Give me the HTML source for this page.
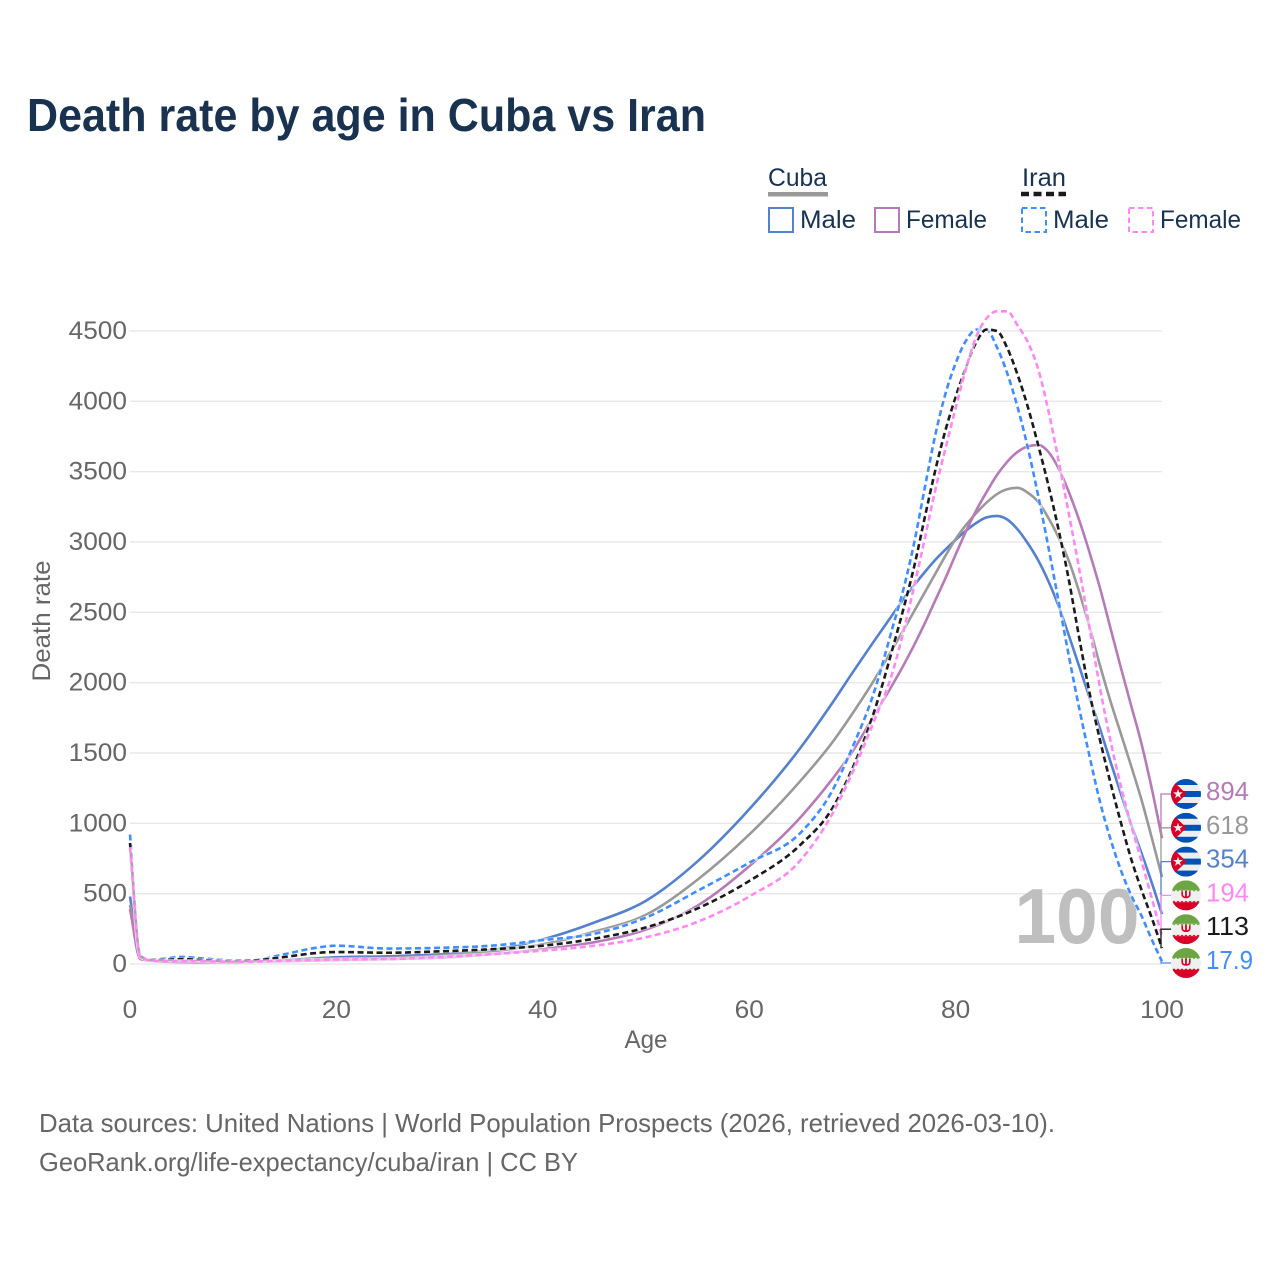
<!DOCTYPE html>
<html lang="en">
<head>
<meta charset="utf-8">
<title>Death rate by age in Cuba vs Iran</title>
<style>
html,body{margin:0;padding:0;background:#fff}
svg{display:block}
text{font-family:"Liberation Sans",sans-serif}
</style>
</head>
<body>
<svg id="chart" xmlns="http://www.w3.org/2000/svg" width="1280" height="1280" viewBox="0 0 1280 1280">
  <rect width="1280" height="1280" fill="#fff"/>
  <text x="27" y="131" font-size="46" font-weight="700" fill="#18324f" textLength="679" lengthAdjust="spacingAndGlyphs">Death rate by age in Cuba vs Iran</text>

  <g font-size="25" fill="#18324f">
    <text x="768" y="186" textLength="59" lengthAdjust="spacingAndGlyphs">Cuba</text>
    <rect x="768" y="192" width="60" height="4.5" fill="#999"/>
    <text x="1022" y="186" textLength="44" lengthAdjust="spacingAndGlyphs">Iran</text>
    <line x1="1021" x2="1066" y1="194" y2="194" stroke="#1a1a1a" stroke-width="4.5" stroke-dasharray="8 4.5"/>
    <g>
      <rect x="769" y="208" width="24" height="24" fill="none" stroke="#5481cd" stroke-width="2"/>
      <text x="800" y="228" textLength="56" lengthAdjust="spacingAndGlyphs">Male</text>
    </g>
    <g>
      <rect x="875" y="208" width="24" height="24" fill="none" stroke="#b77ab8" stroke-width="2"/>
      <text x="906" y="228" textLength="81" lengthAdjust="spacingAndGlyphs">Female</text>
    </g>
    <g>
      <rect x="1022" y="208" width="24" height="24" fill="none" stroke="#3f8dff" stroke-width="2" stroke-dasharray="5.5 3.5"/>
      <text x="1053" y="228" textLength="56" lengthAdjust="spacingAndGlyphs">Male</text>
    </g>
    <g>
      <rect x="1129" y="208" width="24" height="24" fill="none" stroke="#ff88f5" stroke-width="2" stroke-dasharray="5.5 3.5"/>
      <text x="1160" y="228" textLength="81" lengthAdjust="spacingAndGlyphs">Female</text>
    </g>
  </g>

  <g id="grid"></g>
  <g id="yticks"></g>
  <g id="xticks"></g>
  <text x="1077" y="943" font-size="78" font-weight="700" fill="#bfbfbf" text-anchor="middle" textLength="125" lengthAdjust="spacingAndGlyphs">100</text>
  <g id="series"></g>
  <g id="endlabels"></g>

  <text x="646" y="1048" font-size="25" fill="#666" text-anchor="middle" textLength="43" lengthAdjust="spacingAndGlyphs">Age</text>
  <text transform="translate(50 621) rotate(-90)" font-size="25" fill="#666" text-anchor="middle" textLength="121" lengthAdjust="spacingAndGlyphs">Death rate</text>

  <text x="39" y="1132" font-size="26" fill="#666" textLength="1016" lengthAdjust="spacingAndGlyphs">Data sources: United Nations | World Population Prospects (2026, retrieved 2026-03-10).</text>
  <text x="39" y="1171" font-size="26" fill="#666" textLength="539" lengthAdjust="spacingAndGlyphs">GeoRank.org/life-expectancy/cuba/iran | CC BY</text>
</svg>
<script>
const ages = [0,1,2,3,5,7,10,12,15,18,20,25,30,35,40,45,50,55,60,65,68,70,72,74,75,76,77,78,79,80,81,82,83,84,85,86,87,88,89,90,91,92,93,94,95,96,97,98,99,100];
const cubaMale = [480,40,28,22,18,15,14,18,28,40,48,55,70,100,175,295,450,730,1100,1540,1850,2070,2285,2495,2600,2695,2785,2870,2945,3015,3080,3135,3175,3185,3160,3090,2990,2870,2720,2540,2330,2110,1890,1670,1440,1215,995,790,580,354];
const cubaTotal = [420,38,25,20,16,14,12,16,24,34,40,45,60,90,140,230,350,600,920,1305,1570,1780,2005,2255,2380,2510,2640,2770,2900,3020,3120,3205,3280,3340,3375,3385,3350,3285,3170,3030,2860,2640,2390,2120,1870,1640,1410,1170,900,618];
const cubaFemale = [390,35,22,17,14,12,12,15,20,25,28,35,45,70,105,155,245,415,695,1045,1310,1510,1755,2000,2130,2270,2420,2580,2740,2910,3075,3225,3355,3475,3570,3640,3680,3690,3640,3520,3350,3150,2920,2670,2390,2110,1840,1570,1250,894];
const iranMale = [920,60,30,35,50,40,25,28,70,115,130,110,115,130,170,215,330,520,720,935,1225,1540,1910,2420,2680,3000,3380,3750,4050,4270,4430,4510,4510,4385,4200,3960,3670,3330,2960,2570,2180,1810,1470,1150,890,670,490,345,175,17.9];
const iranTotal = [860,55,28,28,35,28,20,25,50,78,85,80,90,105,130,180,260,395,590,850,1100,1390,1770,2270,2540,2830,3170,3500,3790,4030,4240,4420,4510,4500,4380,4190,3960,3690,3400,3080,2720,2310,1920,1590,1290,1010,750,530,330,113];
const iranFemale = [830,50,25,22,22,20,16,18,25,30,32,35,50,70,95,130,190,300,480,740,1060,1360,1710,2100,2380,2690,3020,3360,3660,3950,4230,4460,4590,4640,4640,4540,4420,4230,3930,3570,3190,2800,2380,1960,1590,1270,990,735,470,194];
const xTicks = [0,20,40,60,80,100];
const yTicks = [0,500,1000,1500,2000,2500,3000,3500,4000,4500];
const endLabels = ["894","618","354","194","113","17.9"];

const NS = "http://www.w3.org/2000/svg";
const xScale = a => 130 + a * 10.32;
const yScale = v => 964 - v * 0.14067;
const mk = (tag, parent) => { const e = document.createElementNS(NS, tag); parent.appendChild(e); return e; };

// gridlines and ticks
const gridG = document.getElementById("grid");
const yG = document.getElementById("yticks");
const xG = document.getElementById("xticks");
yTicks.forEach(t => {
  const l = mk("line", gridG);
  
  
  l.setAttribute("x1", xScale(0));
  l.setAttribute("x2", xScale(100));
  l.setAttribute("y1", yScale(t));
  l.setAttribute("y2", yScale(t));
  l.setAttribute("stroke", "#e8e8e8");
  l.setAttribute("stroke-width", "1.4");
  const s = String(t);
  const lb = mk("text", yG);
  
  
  lb.setAttribute("x", "127");
  lb.setAttribute("y", yScale(t) + 8);
  lb.setAttribute("font-size", "25");
  lb.setAttribute("fill", "#666");
  lb.setAttribute("text-anchor", "end");
  lb.setAttribute("textLength", s.length * 14.6);
  lb.setAttribute("lengthAdjust", "spacingAndGlyphs");
  lb.textContent = s;
});
xTicks.forEach(t => {
  const s = String(t);
  const lb = mk("text", xG);
  
  
  lb.setAttribute("x", xScale(t));
  lb.setAttribute("y", "1018");
  lb.setAttribute("font-size", "25");
  lb.setAttribute("fill", "#666");
  lb.setAttribute("text-anchor", "middle");
  lb.setAttribute("textLength", s.length * 14.6);
  lb.setAttribute("lengthAdjust", "spacingAndGlyphs");
  lb.textContent = s;
});

// monotone cubic path through the data
function curve(xs, ys) {
  const n = xs.length, h = [], d = [], m = new Array(n);
  for (let i = 0; i < n - 1; i++) { h[i] = xs[i + 1] - xs[i]; d[i] = (ys[i + 1] - ys[i]) / h[i]; }
  m[0] = d[0]; m[n - 1] = d[n - 2];
  for (let i = 1; i < n - 1; i++) {
    if (d[i - 1] * d[i] <= 0) { m[i] = 0; }
    else {
      const p = (d[i - 1] * h[i] + d[i] * h[i - 1]) / (h[i - 1] + h[i]);
      m[i] = (Math.sign(d[i - 1]) + Math.sign(d[i])) * Math.min(Math.abs(d[i - 1]), Math.abs(d[i]), 0.5 * Math.abs(p));
    }
  }
  let p = "M" + xs[0].toFixed(2) + " " + ys[0].toFixed(2);
  for (let i = 0; i < n - 1; i++) {
    const dx = h[i] / 3;
    p += "C" + (xs[i] + dx).toFixed(2) + " " + (ys[i] + m[i] * dx).toFixed(2) + " " + (xs[i + 1] - dx).toFixed(2) + " " + (ys[i + 1] - m[i + 1] * dx).toFixed(2) + " " + xs[i + 1].toFixed(2) + " " + ys[i + 1].toFixed(2);
  }
  return p;
}

const seriesG = document.getElementById("series");
function drawSeries(values, name, color, dashed) {
  const d = curve(ages.map(xScale), values.map(yScale));
  if (dashed) {
    const halo = mk("path", seriesG);
    
    
    halo.setAttribute("d", d);
    halo.setAttribute("fill", "none");
    halo.setAttribute("stroke", "#fff");
    halo.setAttribute("stroke-opacity", "0.6");
    halo.setAttribute("stroke-width", "3.8");
  }
  const path = mk("path", seriesG);
  
  
  path.setAttribute("d", d);
  path.setAttribute("fill", "none");
  path.setAttribute("stroke", color);
  path.setAttribute("stroke-width", "2.6");
  if (dashed) { path.setAttribute("stroke-dasharray", "6 3.5"); }
}
drawSeries(cubaMale, "line-cuba-male", "#5481cd", false);
drawSeries(cubaTotal, "line-cuba-total", "#999999", false);
drawSeries(cubaFemale, "line-cuba-female", "#b77ab8", false);
drawSeries(iranMale, "line-iran-male", "#3f8dff", true);
drawSeries(iranTotal, "line-iran-total", "#1a1a1a", true);
drawSeries(iranFemale, "line-iran-female", "#ff88f5", true);

// end-of-line labels
const labelG = document.getElementById("endlabels");
const ends = [
  { v: cubaFemale, c: "#b77ab8", flag: "cuba", s: endLabels[0], n: "cuba-female" },
  { v: cubaTotal, c: "#999999", flag: "cuba", s: endLabels[1], n: "cuba-total" },
  { v: cubaMale, c: "#5481cd", flag: "cuba", s: endLabels[2], n: "cuba-male" },
  { v: iranFemale, c: "#ff88f5", flag: "iran", s: endLabels[3], n: "iran-female" },
  { v: iranTotal, c: "#1a1a1a", flag: "iran", s: endLabels[4], n: "iran-total" },
  { v: iranMale, c: "#3f8dff", flag: "iran", s: endLabels[5], n: "iran-male" }
];
const clip = mk("clipPath", mk("defs", labelG));
clip.setAttribute("id", "flag-clip");
const clipC = mk("circle", clip);
clipC.setAttribute("r", "15");

function rect(g, x, y, w, h, fill) {
  const r = mk("rect", g);
  r.setAttribute("x", x); r.setAttribute("y", y); r.setAttribute("width", w); r.setAttribute("height", h); r.setAttribute("fill", fill);
  return r;
}
function poly(g, pts, fill) {
  const p = mk("polygon", g);
  p.setAttribute("points", pts); p.setAttribute("fill", fill);
  return p;
}
function drawCuba(g) {
  rect(g, -15, -15, 30, 30, "#eeeeee");
  rect(g, -15, -15, 30, 6, "#0052b4");
  rect(g, -15, -3, 30, 6, "#0052b4");
  rect(g, -15, 9, 30, 6, "#0052b4");
  poly(g, "-15,-15 -15,15 0.5,0", "#d80027");
  poly(g, "-8,-5 -6.8,-1.6 -3.2,-1.6 -6.1,0.7 -5,4.2 -8,2.1 -11,4.2 -9.9,0.7 -12.8,-1.6 -9.2,-1.6", "#eeeeee");
}
function drawIran(g) {
  rect(g, -15, -15, 30, 30, "#f0f0f0");
  rect(g, -15, -15, 30, 9.5, "#6da544");
  rect(g, -15, 7, 30, 8, "#d80027");
  for (let i = -14; i < 15; i += 4) {
    poly(g, i + ",-5.5 " + (i + 2) + ",-3.8 " + (i + 4) + ",-5.5", "#6da544");
    poly(g, i + ",7 " + (i + 2) + ",5.4 " + (i + 4) + ",7", "#d80027");
  }
  rect(g, -0.9, -4.5, 1.8, 7, "#d80027");
  const u = mk("path", g);
  u.setAttribute("d", "M-3.8 -4V-1Q-3.8 2 0 2Q3.8 2 3.8 -1V-4");
  u.setAttribute("fill", "none");
  u.setAttribute("stroke", "#d80027");
  u.setAttribute("stroke-width", "1.6");
}

ends.forEach((e, i) => {
  const val = e.v[e.v.length - 1];
  const ly = 794 + i * 33.8;
  const ey = yScale(val);
  const conn = mk("path", labelG);
  
  
  conn.setAttribute("d", "M1161 " + ey + "V" + ly + "H1171");
  conn.setAttribute("fill", "none");
  conn.setAttribute("stroke", e.c);
  conn.setAttribute("stroke-width", "1.3");
  const g = mk("g", labelG);
  
  
  g.setAttribute("transform", "translate(1186 " + ly + ")");
  g.setAttribute("clip-path", "url(#flag-clip)");
  if (e.flag === "cuba") { drawCuba(g); } else { drawIran(g); }
  const t = mk("text", labelG);
  
  
  t.setAttribute("x", "1206");
  t.setAttribute("y", ly + 6);
  t.setAttribute("font-size", "26");
  t.setAttribute("fill", e.c);
  t.setAttribute("textLength", e.s.length === 4 ? 47 : 43);
  t.setAttribute("lengthAdjust", "spacingAndGlyphs");
  t.textContent = e.s;
});
</script>
</body>
</html>
